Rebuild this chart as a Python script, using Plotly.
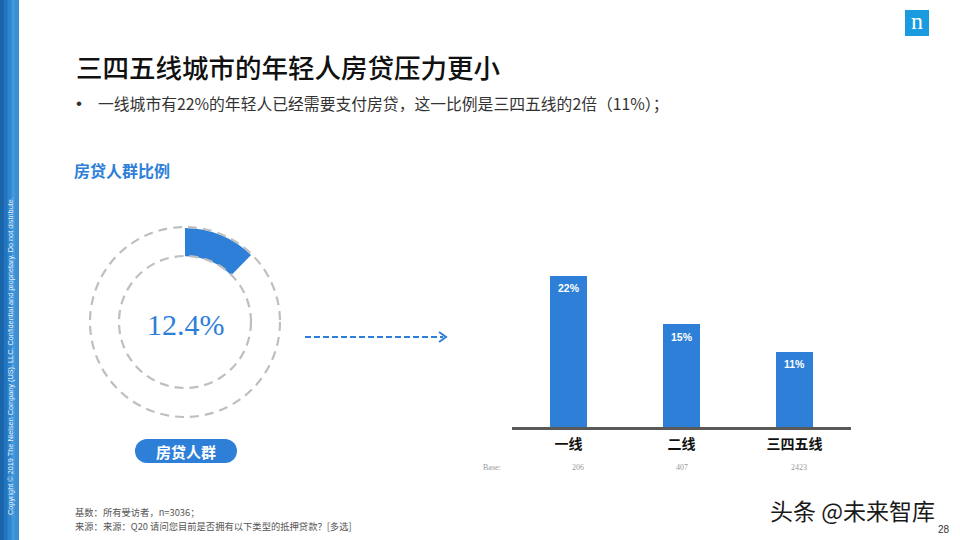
import plotly.graph_objects as go

W, H = 960, 540


def px(x):
    return x / W


def py(y):
    return 1 - y / H


# ---------------- data ----------------
categories = ["一线", "二线", "三四五线"]
shares = [22, 15, 11]
bases = ["206", "407", "2423"]
donut_labels = ["房贷人群", "其他"]
donut_values = [12.4, 87.6]
donut_text = "12.4%"

BLUE = "#2E7FD8"
CJK = "Noto Sans CJK SC"
SERIF = "Liberation Serif"

fig = go.Figure()

# bar chart
fig.add_trace(go.Bar(
    x=categories, y=shares, marker=dict(color=BLUE, line=dict(width=0)),
    width=0.335, xaxis="x", yaxis="y", hoverinfo="skip", showlegend=False,
))

# donut
cx, cy, R = 185, 322, 94
fig.add_trace(go.Pie(
    values=donut_values, labels=donut_labels, hole=0.70, sort=False,
    direction="clockwise", rotation=0,
    marker=dict(colors=[BLUE, "rgba(0,0,0,0)"], line=dict(width=0)),
    textinfo="none", hoverinfo="skip", showlegend=False,
    domain=dict(x=[px(cx - R), px(cx + R)], y=[py(cy + R), py(cy - R)]),
))

shapes = []
annotations = []


def note(text, x, y, size, color, family=CJK, xanchor="center", yanchor="middle",
         xref="paper", yref="paper", weight="normal", **kw):
    annotations.append(dict(text=text, x=x, y=y, xref=xref, yref=yref, xanchor=xanchor,
                            yanchor=yanchor, showarrow=False,
                            font=dict(family=family, size=size, color=color, weight=weight),
                            **kw))


# left decorative strip
shapes.append(dict(type="rect", xref="paper", yref="paper", x0=0, x1=px(19), y0=0, y1=1,
                   fillcolor="#2A82CC", line=dict(width=0), layer="below"))
strip_cols = ["#1A64AA", "#2274BE", "#2E86CF", "#4398DA", "#3A8ED5"]
sw = 19 / len(strip_cols)
for i, c in enumerate(strip_cols):
    shapes.append(dict(type="rect", xref="paper", yref="paper",
                       x0=px(i * sw), x1=px(min(19, (i + 1) * sw + 0.6)), y0=0, y1=1,
                       fillcolor=c, line=dict(width=0), layer="below"))
note("Copyright © 2019 The Nielsen Company (US), LLC. Confidential and proprietary. Do not distribute.",
     px(10), py(356), 7.3, "rgba(255,255,255,0.92)", family="Arial, Liberation Sans",
     textangle=-90)

# Nielsen logo
shapes.append(dict(type="rect", xref="paper", yref="paper",
                   x0=px(905), x1=px(929), y0=py(36), y1=py(10),
                   fillcolor="#1A9BE0", line=dict(width=0)))
note("n", px(917), py(21), 24, "white", family=SERIF)

# title & bullet
note("三四五线城市的年轻人房贷压力更小", px(74), py(66), 26.5, "#111111",
     xanchor="left", weight=500)
note("•", px(74), py(103), 17, "#333333", xanchor="left", family="Arial, Liberation Sans")
note("一线城市有22%的年轻人已经需要支付房贷，这一比例是三四五线的2倍（11%）；",
     px(96), py(103), 15.8, "#333333", xanchor="left")
note("房贷人群比例", px(72), py(170), 16, BLUE, xanchor="left", weight="bold")

# donut dashed circles
for r in (95, 66):
    shapes.append(dict(type="circle", xref="paper", yref="paper",
                       x0=px(cx - r), x1=px(cx + r), y0=py(cy + r), y1=py(cy - r),
                       line=dict(color="#BFBFBF", width=2.2, dash="9px,6px")))
note(donut_text, px(186), py(324), 30, BLUE, family=SERIF)

# pill button
bx0, bx1, by = 147, 225, 451
shapes.append(dict(type="rect", xref="paper", yref="paper", x0=px(bx0), x1=px(bx1),
                   y0=py(by + 12), y1=py(by - 12), fillcolor=BLUE, line=dict(width=0)))
for bx in (bx0, bx1):
    shapes.append(dict(type="circle", xref="paper", yref="paper", x0=px(bx - 12),
                       x1=px(bx + 12), y0=py(by + 12), y1=py(by - 12),
                       fillcolor=BLUE, line=dict(width=0)))
note("房贷人群", px(186), py(by), 15, "white", weight="bold")

# dashed arrow
shapes.append(dict(type="line", xref="paper", yref="paper", x0=px(305), x1=px(443),
                   y0=py(337), y1=py(337), line=dict(color=BLUE, width=2, dash="6px,3px")))
shapes.append(dict(type="path", xref="paper", yref="paper",
                   path=f"M {px(439)},{py(332)} L {px(446)},{py(337)} L {px(439)},{py(342)}",
                   line=dict(color=BLUE, width=2)))

# bar value labels
for c, v in zip(categories, shares):
    note(f"<b>{v}%</b>", c, v, 10.5, "white", family="Arial, Liberation Sans",
         xref="x", yref="y", yshift=-13)

# base row
note("Base:", px(492), py(467), 8, "#9A9A9A", family=SERIF)
for c, b, dx in zip(categories, bases, (9, 0, 4)):
    note(b, c, py(467), 8, "#9A9A9A", family=SERIF, xref="x", xshift=dx)

# footnotes
note("基数：所有受访者，n=3036；", px(73), py(512), 9.3, "#555555", xanchor="left")
note("来源：来源：Q20 请问您目前是否拥有以下类型的抵押贷款？[多选]", px(73), py(526), 9.3,
     "#555555", xanchor="left")

# watermark & page number
note("头条 @未来智库", px(852), py(510), 23, "#1a1a1a")
note("28", px(944), py(529), 10, "#333333", family="Arial, Liberation Sans")

y_top_px = 427 - 25 * 6.9
fig.update_layout(
    width=W, height=H, margin=dict(l=0, r=0, t=0, b=0),
    paper_bgcolor="white", plot_bgcolor="rgba(0,0,0,0)",
    bargap=0,
    xaxis=dict(domain=[px(512), px(851)], range=[-0.5, 2.5], showline=True,
               linecolor="#595959", linewidth=3, ticks="", showgrid=False, zeroline=False,
               tickvals=categories, ticktext=[f"<b>{c}</b>" for c in categories],
               tickfont=dict(family=CJK, size=14, color="#111111"), ticklabelstandoff=2,
               fixedrange=True),
    yaxis=dict(domain=[py(427), py(y_top_px)], range=[0, 25], visible=False, fixedrange=True),
    shapes=shapes, annotations=annotations,
)

fig.write_html("out.html", config=dict(displayModeBar=False),
               post_script="document.body.style.margin='0';")
